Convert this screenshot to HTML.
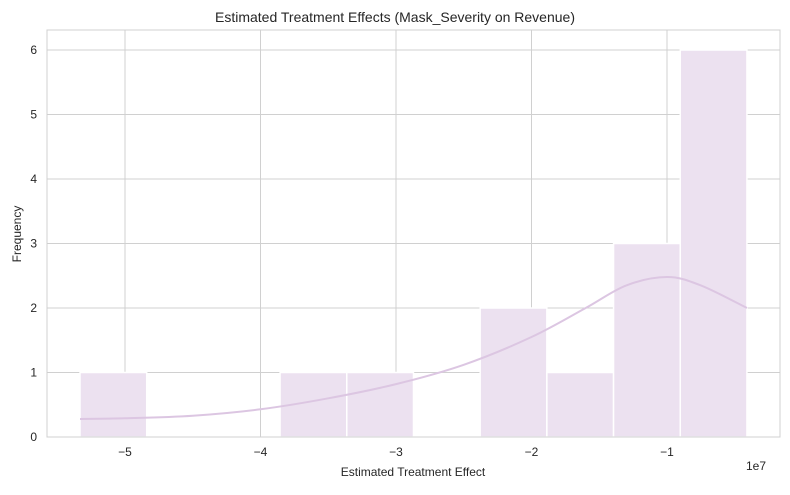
<!DOCTYPE html>
<html><head><meta charset="utf-8"><style>
body{margin:0;background:#fff;font-family:"Liberation Sans",sans-serif;}
svg text{font-family:"Liberation Sans",sans-serif;fill:#262626;}
</style></head><body>
<svg id="chart" width="790" height="490">
<rect x="47" y="30" width="733" height="407" fill="#fff"/>
<g id="grid"></g><g id="bars"></g><g id="kde"></g><g id="axes"></g>
<text x="395" y="22" text-anchor="middle" font-size="14">Estimated Treatment Effects (Mask_Severity on Revenue)</text>
<text x="413" y="476" text-anchor="middle" font-size="12">Estimated Treatment Effect</text>
<text x="21" y="234" text-anchor="middle" font-size="12" transform="rotate(-90 21 234)">Frequency</text>
<text x="746" y="470" font-size="12">1e7</text>
</svg>
<script>
const binStart = -5.332;
const binWidth = 0.4922;
const counts = [1,0,0,1,1,0,2,1,3,6];
const xTicks = [-5,-4,-3,-2,-1];
const xTickLabels = ["\u22125","\u22124","\u22123","\u22122","\u22121"];
const yTicks = [0,1,2,3,4,5,6];
const kdeX = [-5.332,-5.0,-4.5,-4.0,-3.5,-3.0,-2.5,-2.0,-1.6,-1.3,-1.0,-0.75,-0.41];
const kdeY = [0.28,0.29,0.33,0.43,0.6,0.82,1.12,1.55,2.0,2.35,2.48,2.35,2.0];
const NS="http://www.w3.org/2000/svg";
function xs(v){return 125+(v+5)*135.5;}
function ys(v){return 437-v*64.5;}
function mk(tag,attrs,parent){const e=document.createElementNS(NS,tag);for(const k in attrs)e.setAttribute(k,attrs[k]);document.getElementById(parent).appendChild(e);return e;}
xTicks.forEach((t,i)=>{
 const l=mk('line',{x1:xs(t),x2:xs(t),y1:30,y2:437,stroke:'#d0d0d0','stroke-width':1},'grid');
 
 
 const tx=mk('text',{x:xs(t),y:456,'text-anchor':'middle','font-size':12},'axes');
 tx.textContent=xTickLabels[i];
 
 
});
yTicks.forEach(t=>{
 const l=mk('line',{x1:47,x2:780,y1:ys(t),y2:ys(t),stroke:'#d0d0d0','stroke-width':1},'grid');
 
 
 const tx=mk('text',{x:37,y:ys(t)+4,'text-anchor':'end','font-size':12},'axes');
 tx.textContent=t;
 
 
});
counts.forEach((c,i)=>{
 if(c<=0)return;
 const x0=xs(binStart+i*binWidth),x1=xs(binStart+(i+1)*binWidth);
 const r=mk('rect',{x:x0,y:ys(c),width:x1-x0,height:ys(0)-ys(c),fill:'#ece1f0',stroke:'#fff','stroke-width':1.5},'bars');
 
 
});
const pts=kdeX.map((v,i)=>[xs(v),ys(kdeY[i])]);
let d='M'+pts[0][0]+','+pts[0][1];
for(let i=0;i<pts.length-1;i++){
 const p0=pts[Math.max(i-1,0)],p1=pts[i],p2=pts[i+1],p3=pts[Math.min(i+2,pts.length-1)];
 const c1=[p1[0]+(p2[0]-p0[0])/6,p1[1]+(p2[1]-p0[1])/6];
 const c2=[p2[0]-(p3[0]-p1[0])/6,p2[1]-(p3[1]-p1[1])/6];
 d+=' C'+c1+' '+c2+' '+p2;
}
const p=mk('path',{d:d,fill:'none',stroke:'#dcc6e2','stroke-width':2},'kde');


const b=mk('rect',{x:47,y:30,width:733,height:407,fill:'none',stroke:'#d0d0d0','stroke-width':1},'axes');


</script>
</body></html>
